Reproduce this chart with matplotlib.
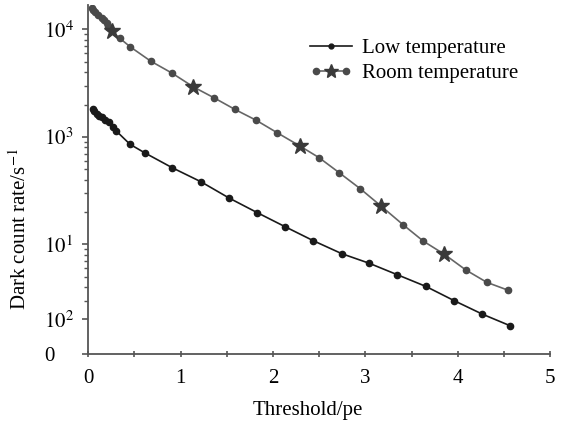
import matplotlib
matplotlib.use("Agg")
import matplotlib.pyplot as plt
from matplotlib.lines import Line2D
from matplotlib.legend_handler import HandlerLine2D, HandlerTuple
from matplotlib.ticker import LogLocator, NullFormatter, FixedLocator, FixedFormatter

plt.rcParams['font.family'] = ['Liberation Serif', 'DejaVu Serif']
plt.rcParams['mathtext.fontset'] = 'stix'

# ---- data ----
low_x = [0.048, 0.067, 0.089, 0.116, 0.148, 0.186, 0.228, 0.271, 0.304, 0.452, 0.611,
         0.910, 1.221, 1.524, 1.831, 2.131, 2.438, 2.745, 3.044, 3.348, 3.656, 3.963,
         4.268, 4.567]
low_y = [1832, 1738, 1648, 1578, 1528, 1449, 1381, 1233, 1132, 853, 711,
         516, 382, 270, 197, 146, 108, 81.9, 66.6, 52.1, 40.6, 29.9,
         22.4, 17.5]

room_x = [0.037, 0.056, 0.073, 0.105, 0.143, 0.170, 0.199, 0.217, 0.257, 0.343, 0.452,
          0.676, 0.907, 1.138, 1.362, 1.589, 1.817, 2.048, 2.288, 2.499, 2.719, 2.944,
          3.168, 3.406, 3.629, 3.857, 4.089, 4.316, 4.540]
room_y = [15800, 15100, 14500, 13600, 12900, 12200, 11400, 10700, 9640, 8250, 6910,
          5070, 3920, 2920, 2310, 1800, 1430, 1090, 826, 641, 463, 330,
          228, 153, 107, 80.7, 57.7, 44.3, 37.6]
room_star_idx = [8, 13, 18, 22, 25]

x_ticks = [0, 1, 2, 3, 4, 5]
x_tick_labels = ['0', '1', '2', '3', '4', '5']
y_tick_values = [1e4, 1e3, 1e2, 2e1, 9.54]
y_tick_labels = ['$10^4$', '$10^3$', '$10^1$', '$10^2$', '0']

series_names = ['Low temperature', 'Room temperature']

# ---- figure ----
fig = plt.figure(figsize=(5.65, 4.30), dpi=100)
ax = fig.add_axes([0.1563, 0.1767, 0.8172, 0.8113])

axis_col = '#555555'
low_col = '#1a1a1a'
room_col = '#666666'
room_mcol = '#4a4a4a'
star_col = '#3a3a3a'

ax.plot(low_x, low_y, '-', color=low_col, lw=1.2, marker='o', ms=4.5,
        mfc=low_col, mec=low_col, zorder=3)
circ_idx = [i for i in range(len(room_x)) if i not in room_star_idx]
ax.plot(room_x, room_y, '-', color=room_col, lw=1.2, marker='o', ms=4.5,
        mfc=room_mcol, mec=room_mcol, markevery=circ_idx, zorder=3)
ax.plot([room_x[i] for i in room_star_idx], [room_y[i] for i in room_star_idx],
        linestyle='none', marker='*', ms=12, mfc=star_col, mec=star_col, zorder=4)

ax.set_yscale('log')
ax.set_xlim(0, 5)
ax.set_ylim(9.54, 16830)

for s in ['top', 'right']:
    ax.spines[s].set_visible(False)
for s in ['left', 'bottom']:
    ax.spines[s].set_color(axis_col)
    ax.spines[s].set_linewidth(1.3)

ax.set_xticks(x_ticks)
ax.set_xticklabels(x_tick_labels)
ax.set_xticks([0.5, 1.5, 2.5, 3.5, 4.5], minor=True)
ax.tick_params(axis='x', which='both', direction='inout', length=5, width=1.2,
               color=axis_col, labelsize=15, pad=8)

ax.yaxis.set_major_locator(FixedLocator(y_tick_values))
ax.yaxis.set_major_formatter(FixedFormatter(y_tick_labels))
ax.yaxis.set_minor_locator(LogLocator(base=10, subs=[2, 3, 4, 5, 6, 7, 8, 9], numticks=20))
ax.yaxis.set_minor_formatter(NullFormatter())
ax.tick_params(axis='y', which='major', direction='out', length=4, width=1.2,
               color=axis_col, labelsize=15, pad=28)
ax.tick_params(axis='y', which='minor', direction='out', length=3, width=1.0,
               color=axis_col)
for lab in ax.get_yticklabels():
    lab.set_horizontalalignment('left')

ax.set_xlabel('Threshold/pe', fontsize=15)
ax.xaxis.set_label_coords(0.475, -0.134)
ax.set_ylabel('Dark count rate/s$^{-1}$', fontsize=15)
ax.yaxis.set_label_coords(-0.124, 0.358)

# legend
h_low = Line2D([], [], color=low_col, lw=1.2, marker='o', ms=3.5, mfc=low_col, mec=low_col)
h_room_c = Line2D([], [], color=room_col, lw=1.2, marker='o', ms=4.5, mfc=room_mcol, mec=room_mcol)
h_room_s = Line2D([], [], linestyle='none', marker='*', ms=10, mfc=star_col, mec=star_col)
leg = ax.legend([h_low, (h_room_c, h_room_s)], series_names,
                loc='upper left', bbox_to_anchor=(0.440, 0.957), frameon=False,
                fontsize=15, handlelength=2.0, handletextpad=0.5, labelspacing=0.25,
                borderpad=0.4,
                handler_map={h_low: HandlerLine2D(numpoints=1),
                             h_room_c: HandlerLine2D(numpoints=2),
                             h_room_s: HandlerLine2D(numpoints=1),
                             tuple: HandlerTuple(ndivide=1)})

fig.savefig('out.png', dpi=100)
